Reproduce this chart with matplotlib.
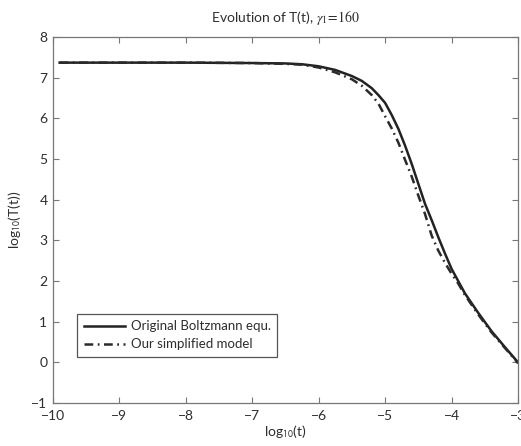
import matplotlib
matplotlib.use('Agg')
import matplotlib.pyplot as plt

# values
t_log = [-9.9, -9.0, -8.0, -7.0, -6.5, -6.25, -6.0, -5.75, -5.5, -5.35, -5.2,
         -5.1, -5.0, -4.9, -4.8, -4.7, -4.6, -4.5, -4.4, -4.3, -4.2, -4.1,
         -4.0, -3.9, -3.8, -3.6, -3.4, -3.2, -3.0]
boltzmann = [7.37, 7.37, 7.37, 7.36, 7.35, 7.33, 7.28, 7.19, 7.04, 6.92, 6.74,
             6.57, 6.38, 6.08, 5.74, 5.33, 4.88, 4.39, 3.90, 3.50, 3.08, 2.68,
             2.30, 2.00, 1.70, 1.22, 0.77, 0.38, 0.0]
simplified = [7.37, 7.37, 7.37, 7.36, 7.34, 7.32, 7.25, 7.13, 6.96, 6.80, 6.57,
              6.36, 6.05, 5.75, 5.40, 4.98, 4.57, 4.10, 3.65, 3.12, 2.75, 2.45,
              2.18, 1.94, 1.66, 1.18, 0.74, 0.36, -0.02]

plt.rcParams['font.family'] = ['Lato', 'DejaVu Sans']
plt.rcParams['mathtext.fontset'] = 'stix'

fig = plt.figure(figsize=(5.21, 4.46), dpi=100)
ax = fig.add_axes([0.1017, 0.0964, 0.8925, 0.8206])

ax.plot(t_log, boltzmann, color='#222222', lw=1.8, label='Original Boltzmann equ.')
ax.plot(t_log, simplified, color='#2a2a2a', lw=1.8,
        linestyle=(0, (3.5, 1.8, 0.7, 1.8)), label='Our simplified model')

ax.set_xlim(-10, -3)
ax.set_ylim(-1, 8)
ax.set_xticks(range(-10, -2))
ax.set_yticks(range(-1, 9))
ax.set_xticklabels(['\u2212%d' % abs(v) for v in range(-10, -2)])
ax.set_yticklabels(['\u22121'] + [str(v) for v in range(0, 9)])

for sp in ax.spines.values():
    sp.set_color('#777777')
    sp.set_linewidth(0.9)
ax.tick_params(direction='in', top=True, right=True, length=4, width=0.8,
               color='#777777', labelsize=10, labelcolor='#2e2e2e')
ax.tick_params(axis='x', pad=5)
ax.tick_params(axis='y', pad=4)

ax.set_xlabel(r'log$_{\mathsf{10}}$(t)', fontsize=10, color='#2e2e2e', labelpad=1)
ax.set_ylabel(r'log$_{\mathsf{10}}$(T(t))', fontsize=10, color='#2e2e2e', labelpad=6)
ax.set_title(r'Evolution of T(t), $\gamma_1\!=\!160$', fontsize=10,
             color='#2e2e2e', pad=11)

leg = ax.legend(loc='lower left', bbox_to_anchor=(0.052, 0.126), borderaxespad=0,
                fontsize=9.5, fancybox=False, framealpha=1, handlelength=3.1,
                borderpad=0.5, labelspacing=0.45, handletextpad=0.45)
leg.get_frame().set_edgecolor('#555555')
leg.get_frame().set_linewidth(0.9)
for txt in leg.get_texts():
    txt.set_color('#2e2e2e')

fig.savefig('out.png', dpi=100)
